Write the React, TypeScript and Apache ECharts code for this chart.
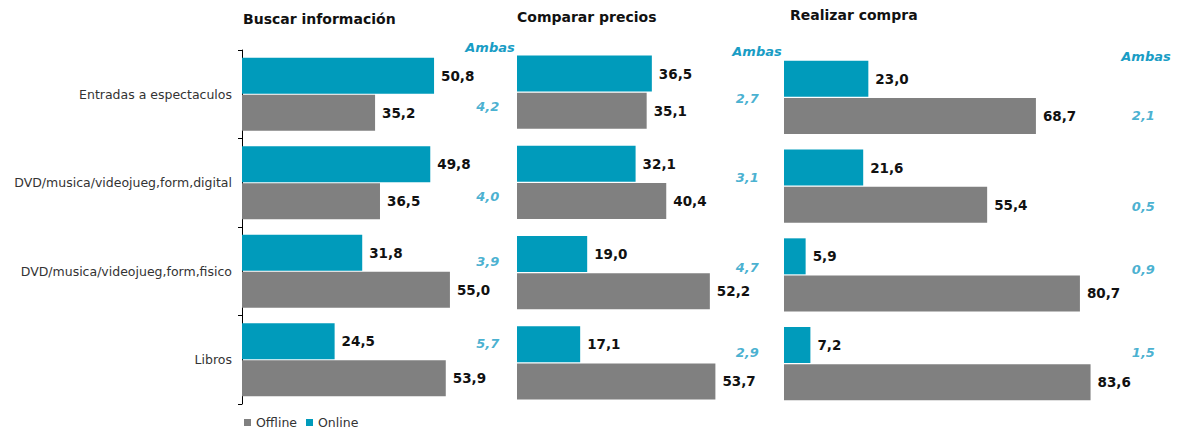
import React, { useEffect, useRef } from "react";
import * as echarts from "echarts";

const categories = [
  "Entradas a espectaculos",
  "DVD/musica/videojueg,form,digital",
  "DVD/musica/videojueg,form,fisico",
  "Libros",
];
const panelTitles = ["Buscar información", "Comparar precios", "Realizar compra"];
const buscarOnline = [50.8, 49.8, 31.8, 24.5];
const buscarOffline = [35.2, 36.5, 55.0, 53.9];
const compararOnline = [36.5, 32.1, 19.0, 17.1];
const compararOffline = [35.1, 40.4, 52.2, 53.7];
const comprarOnline = [23.0, 21.6, 5.9, 7.2];
const comprarOffline = [68.7, 55.4, 80.7, 83.6];
const buscarAmbas = [4.2, 4.0, 3.9, 5.7];
const compararAmbas = [2.7, 3.1, 4.7, 2.9];
const comprarAmbas = [2.1, 0.5, 0.9, 1.5];
const ambasLabel = "Ambas";

// layout
const FONT = "DejaVu Sans";
const TEAL = "#009BBB";
const GRAY = "#808080";
const AMBAS_COLOR = "#199DC5";
const panels = [
  { left: 242, top: 50, width: 272.2, height: 354, max: 72, ambasX: 65, ambasDy: [12, 14, -10, -16], titleX: 243, titleY: 19, headX: 490, headY: 47 },
  { left: 517, top: 47, width: 266, height: 361, max: 72, ambasX: 62.3, ambasDy: [6, -5, -5, -10], titleX: 517, titleY: 17, headX: 757, headY: 51 },
  { left: 784, top: 53, width: 388.7, height: 355, max: 106, ambasX: 98, ambasDy: [18, 20, -5, -11], titleX: 790, titleY: 15, headX: 1146, headY: 56 },
];

const fmt = (v: number) => v.toFixed(1).replace(".", ",");

export default function App() {
  const ref = useRef<HTMLDivElement>(null);
  useEffect(() => {
    if (!ref.current) return;
    const chart = echarts.init(ref.current, null, { renderer: "svg" });
    const onlineSets = [buscarOnline, compararOnline, comprarOnline];
    const offlineSets = [buscarOffline, compararOffline, comprarOffline];
    const ambasSets = [buscarAmbas, compararAmbas, comprarAmbas];

    const grid = panels.map((p) => ({ left: p.left, top: p.top, width: p.width, height: p.height, containLabel: false }));
    const xAxis = panels.map((p, i) => ({ type: "value", gridIndex: i, min: 0, max: p.max, show: false }));
    const yAxis = panels.map((p, i) => ({
      type: "category",
      gridIndex: i,
      data: categories,
      inverse: true,
      show: i === 0,
      axisLine: { show: i === 0, lineStyle: { color: "#000", width: 1 } },
      axisTick: { show: i === 0, length: 4, lineStyle: { color: "#000" } },
      axisLabel: { show: i === 0, fontFamily: FONT, fontSize: 12.5, color: "#333", margin: 10 },
    }));

    const barLabel = {
      show: true,
      position: "right",
      distance: 7,
      fontFamily: FONT,
      fontSize: 13.5,
      fontWeight: "bold",
      color: "#111",
      formatter: (params: any) => fmt(params.value),
    };

    const series: any[] = [];
    panels.forEach((p, i) => {
      series.push({
        name: "Online",
        type: "bar",
        xAxisIndex: i,
        yAxisIndex: i,
        data: onlineSets[i],
        barWidth: 36,
        barGap: "3%",
        itemStyle: { color: TEAL },
        label: barLabel,
      });
      series.push({
        name: "Offline",
        type: "bar",
        xAxisIndex: i,
        yAxisIndex: i,
        data: offlineSets[i],
        barWidth: 36,
        barGap: "3%",
        itemStyle: { color: GRAY },
        label: barLabel,
      });
      series.push({
        name: "ambas" + i,
        type: "scatter",
        xAxisIndex: i,
        yAxisIndex: i,
        symbolSize: 1,
        itemStyle: { color: "rgba(0,0,0,0)" },
        silent: true,
        data: categories.map((c, k) => ({
          value: [p.ambasX, c],
          label: { offset: [0, p.ambasDy[k]] },
        })),
        label: {
          show: true,
          position: "inside",
          fontFamily: FONT,
          fontSize: 13,
          fontStyle: "italic",
          fontWeight: "bold",
          color: AMBAS_COLOR,
          formatter: (params: any) => fmt(ambasSets[i][params.dataIndex]),
        },
      });
    });

    const graphic: any[] = [];
    panels.forEach((p, i) => {
      graphic.push({
        type: "text",
        x: p.titleX,
        y: p.titleY,
        style: {
          text: panelTitles[i],
          fontFamily: FONT,
          fontSize: 14,
          fontWeight: "bold",
          fill: "#111",
          textAlign: "left",
          textVerticalAlign: "middle",
        },
      });
      graphic.push({
        type: "text",
        x: p.headX,
        y: p.headY,
        style: {
          text: ambasLabel,
          fontFamily: FONT,
          fontSize: 13,
          fontWeight: "bold",
          fontStyle: "italic",
          fill: AMBAS_COLOR,
          textAlign: "center",
          textVerticalAlign: "middle",
        },
      });
    });

    chart.setOption({
      animation: false,
      backgroundColor: "#fff",
      grid,
      xAxis,
      yAxis,
      series,
      graphic,
      legend: {
        data: ["Offline", "Online"],
        left: 244,
        top: 416,
        padding: 0,
        icon: "rect",
        itemWidth: 7,
        itemHeight: 7,
        itemGap: 9,
        textStyle: { fontFamily: FONT, fontSize: 12.5, lineHeight: 12, color: "#333" },
      },
    });
    return () => chart.dispose();
  }, []);
  return (
    <div
      ref={ref}
      style={{ position: "fixed", left: 0, top: 0, width: 1177, height: 430 }}
    />
  );
}
